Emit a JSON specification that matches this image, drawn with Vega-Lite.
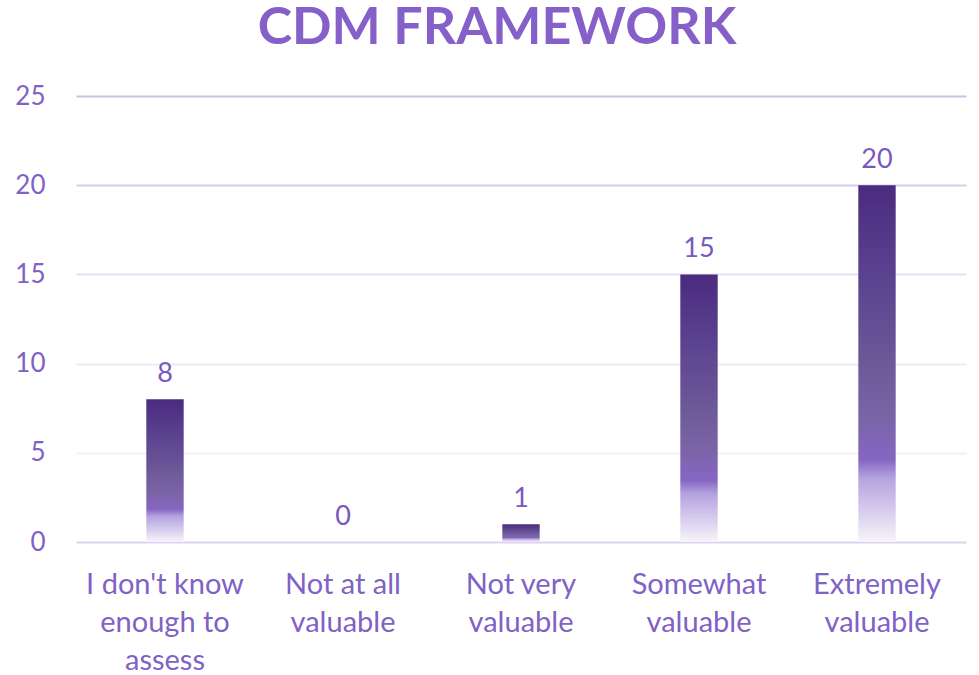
{
  "$schema": "https://vega.github.io/schema/vega-lite/v6.json",
  "width": 890,
  "height": 446,
  "autosize": {"type": "none"},
  "padding": {"left": 76, "top": 96, "right": 13, "bottom": 133},
  "background": "white",
  "view": {"stroke": null},
  "title": {
    "text": "CDM FRAMEWORK",
    "font": "Lato",
    "fontSize": 52,
    "fontWeight": "bold",
    "color": "#8560c8",
    "anchor": "middle",
    "baseline": "alphabetic",
    "offset": -13,
    "dx": -24
  },
  "data": {
    "values": [
      {"response": "I don't know enough to assess", "count": 8},
      {"response": "Not at all valuable", "count": 0},
      {"response": "Not very valuable", "count": 1},
      {"response": "Somewhat valuable", "count": 15},
      {"response": "Extremely valuable", "count": 20}
    ]
  },
  "encoding": {
    "x": {
      "field": "response",
      "type": "nominal",
      "sort": null,
      "scale": {"paddingInner": 0.79, "paddingOuter": 0.395},
      "axis": {
        "title": null,
        "labelAngle": 0,
        "domain": false,
        "ticks": false,
        "labelFont": "Lato",
        "labelFontSize": 29,
        "labelColor": "#8062c6",
        "labelLineHeight": 38,
        "labelPadding": 28,
        "labelBaseline": "top",
        "labelExpr": "datum.value == \"I don't know enough to assess\" ? [\"I don't know\", 'enough to', 'assess'] : datum.value == 'Not at all valuable' ? ['Not at all', 'valuable'] : datum.value == 'Not very valuable' ? ['Not very', 'valuable'] : datum.value == 'Somewhat valuable' ? ['Somewhat', 'valuable'] : ['Extremely', 'valuable']"
      }
    },
    "y": {
      "field": "count",
      "type": "quantitative",
      "scale": {"domain": [0, 25]},
      "axis": {
        "title": null,
        "values": [0, 5, 10, 15, 20, 25],
        "domain": false,
        "ticks": false,
        "labelFont": "Lato",
        "labelFontSize": 26,
        "labelColor": "#8062c6",
        "labelPadding": 31,
        "gridWidth": 2,
        "gridColor": {
          "condition": [
            {"test": "datum.value >= 25", "value": "#cdbfeb"},
            {"test": "datum.value >= 20", "value": "#d8ccf0"},
            {"test": "datum.value >= 15", "value": "#e6e0f4"},
            {"test": "datum.value >= 10", "value": "#eeeaf7"},
            {"test": "datum.value >= 5", "value": "#f3f0f9"}
          ],
          "value": "#ddd3f0"
        }
      }
    }
  },
  "layer": [
    {
      "mark": {
        "type": "bar",
        "fill": {
          "gradient": "linear",
          "x1": 0, "y1": 0, "x2": 0, "y2": 1,
          "stops": [
            {"offset": 0, "color": "#4a2b7e"},
            {"offset": 0.25, "color": "#5b4290"},
            {"offset": 0.5, "color": "#6d5898"},
            {"offset": 0.65, "color": "#7a64a6"},
            {"offset": 0.77, "color": "#8566c4"},
            {"offset": 0.82, "color": "#b4a2df"},
            {"offset": 1, "color": "#f7f4fb"}
          ]
        }
      }
    },
    {
      "mark": {
        "type": "text",
        "baseline": "alphabetic",
        "dy": -17,
        "font": "Lato",
        "fontSize": 27,
        "color": "#7a58c0"
      },
      "encoding": {"text": {"field": "count", "type": "quantitative"}}
    }
  ]
}
